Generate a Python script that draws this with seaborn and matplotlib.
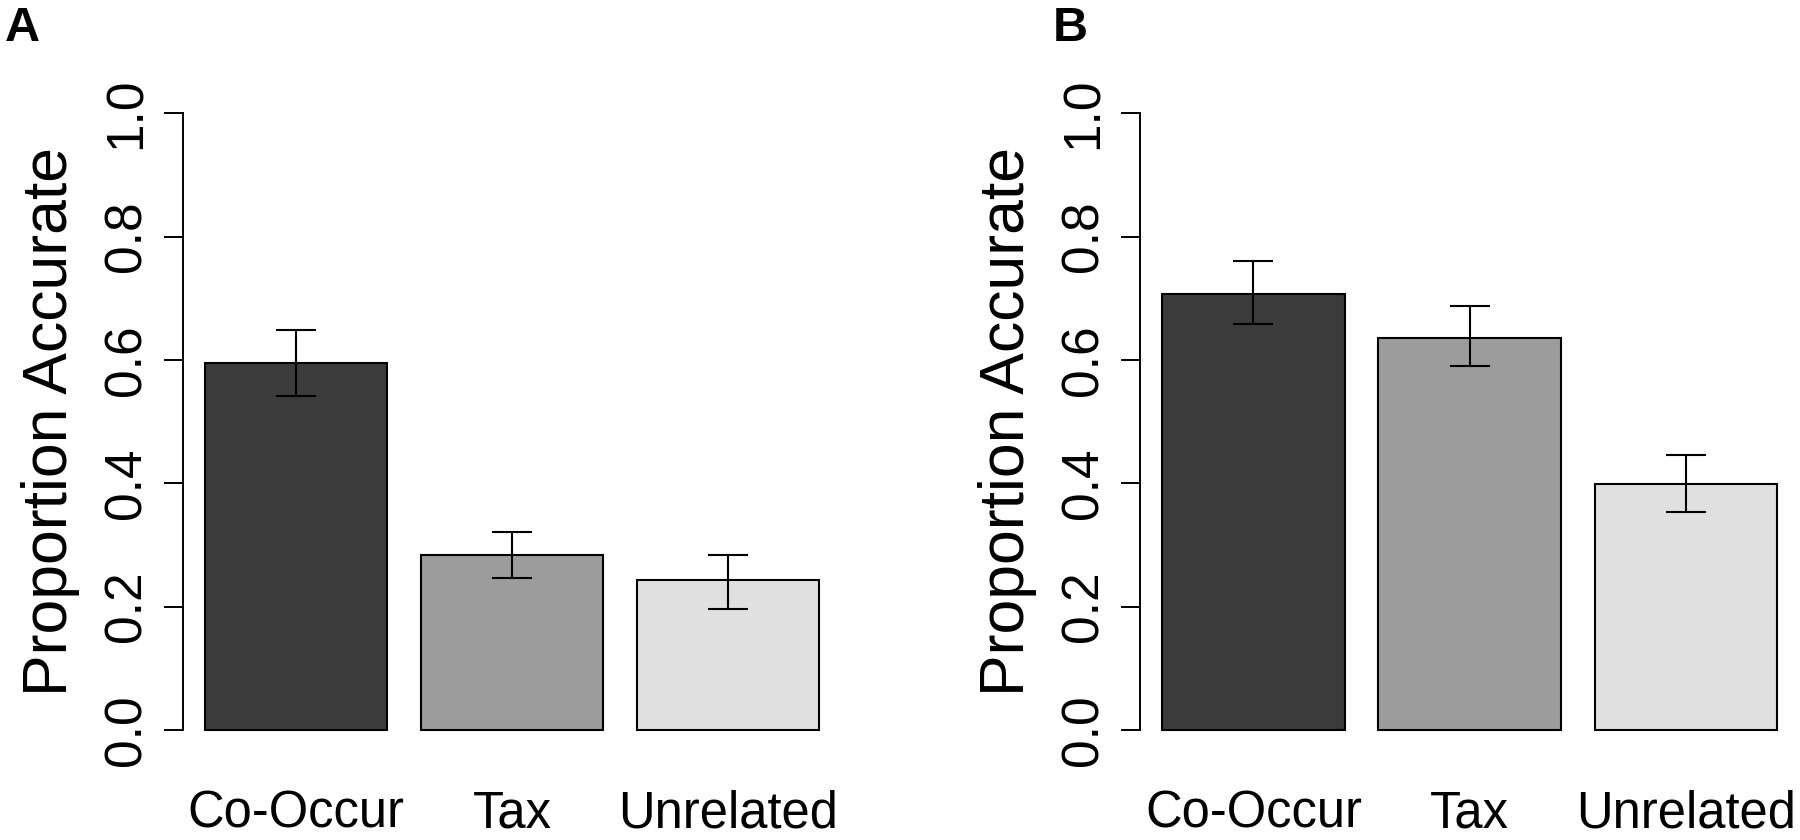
import numpy as np
import matplotlib
matplotlib.use("Agg")
import matplotlib.pyplot as plt
import seaborn as sns

categories = ["Co-Occur", "Tax", "Unrelated"]
bar_colors = ["#3b3b3b", "#9c9c9c", "#e0e0e0"]
yticks = [0.0, 0.2, 0.4, 0.6, 0.8, 1.0]

# panel A
mean_a = [0.595, 0.284, 0.243]
high_a = [0.648, 0.321, 0.284]
low_a = [0.541, 0.247, 0.197]

# panel B
mean_b = [0.707, 0.636, 0.399]
high_b = [0.761, 0.687, 0.446]
low_b = [0.659, 0.591, 0.354]

sns.set_style("white")
plt.rcParams["font.family"] = ["Liberation Sans", "DejaVu Sans"]
plt.rcParams["text.color"] = "black"
plt.rcParams["axes.labelcolor"] = "black"
plt.rcParams["xtick.color"] = "black"
plt.rcParams["ytick.color"] = "black"


def draw_panel(ax, means, lows, highs, letter, letter_x):
    sns.barplot(x=categories, y=means, hue=categories, palette=bar_colors,
                legend=False, saturation=1, width=0.843, edgecolor="black",
                linewidth=1.5, ax=ax)
    for p in ax.patches:
        p.set_clip_on(False)
    yerr = [np.array(means) - np.array(lows), np.array(highs) - np.array(means)]
    ax.errorbar(x=np.arange(len(categories)), y=means, yerr=yerr, fmt="none",
                ecolor="black", elinewidth=1.5, capsize=14.7, capthick=1.5)

    ax.set_xlim(-0.525, 2.52)
    ax.set_ylim(0, 1)
    ax.set_yticks(yticks)
    ax.set_yticklabels([f"{t:.1f}" for t in yticks], rotation=90, va="center")
    ax.tick_params(axis="y", length=13.5, width=1.4, pad=9, labelsize=37,
                   left=True, color="black", labelcolor="black")
    ax.tick_params(axis="x", length=0, pad=43, labelsize=36.5, labelcolor="black")
    for s in ["top", "right", "bottom"]:
        ax.spines[s].set_visible(False)
    ax.spines["left"].set_linewidth(1.4)
    ax.spines["left"].set_color("black")
    ax.set_xlabel("")
    ax.set_ylabel("Proportion Accurate", fontsize=45, color="black")
    ax.yaxis.set_label_coords(-0.156, 0.5)
    fig.text(letter_x, 1 - 41 / 840, letter, fontsize=35, fontweight="bold",
             va="baseline", ha="left", color="black")


fig = plt.figure(figsize=(18, 8.4), dpi=100)
ax_a = fig.add_axes([182.5 / 1800, 110 / 840, 658 / 1800, 616.7 / 840])
ax_b = fig.add_axes([1140 / 1800, 110 / 840, 658 / 1800, 616.7 / 840])

draw_panel(ax_a, mean_a, low_a, high_a, "A", 5 / 1800)
draw_panel(ax_b, mean_b, low_b, high_b, "B", 1053 / 1800)

fig.savefig("out.png", dpi=100)
